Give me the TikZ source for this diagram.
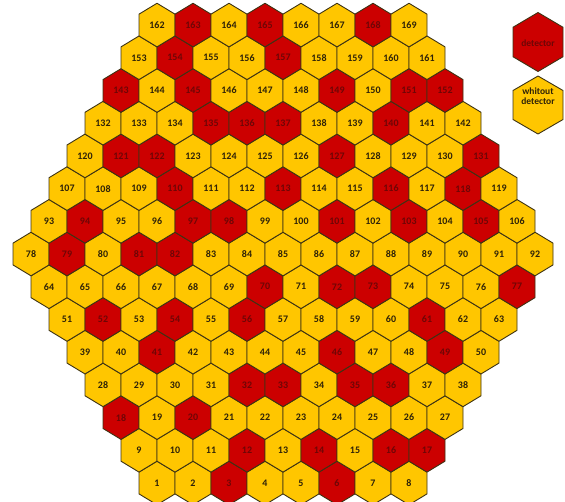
\documentclass[tikz,border=0pt]{standalone}
\usepackage{fontspec}
\setmainfont{Carlito}
\definecolor{hexyellow}{HTML}{FFC600}
\definecolor{hexred}{HTML}{CC0000}
\definecolor{hexline}{HTML}{3D3314}
\definecolor{redtext}{HTML}{6E0606}
\definecolor{darktext}{HTML}{2E2208}
\newcount\hexid
\tikzset{
  yellowhex/.style={fill=hexyellow,draw=hexline,line width=0.9pt,line join=round},
  redhex/.style={fill=hexred,draw=hexline,line width=0.9pt,line join=round},
  yellowlabel/.style={font=\fontsize{10}{11}\selectfont\bfseries,text=darktext,inner sep=0pt},
  redlabel/.style={font=\fontsize{10}{11}\selectfont\bfseries,text=redtext,inner sep=0pt},
  legendtext/.style={font=\fontsize{9.5}{10}\selectfont\bfseries,align=center,inner sep=0pt}
}
\begin{document}
\begin{tikzpicture}[x=1pt,y=-1pt]
\useasboundingbox (0,0) rectangle (565,501);
\foreach \i in {3,6,12,14,16,17,18,20,32,33,35,36,41,46,49,52,54,56,61,70,72,73,77,79,81,82,94,97,98,101,103,105,110,113,116,118,121,122,127,131,135,136,137,140,143,145,149,151,152,154,157,163,165,168}
  {\expandafter\xdef\csname isred\i\endcsname{1}}
\global\hexid=0
\foreach \r in {1,...,15} {
  \pgfmathtruncatemacro\n{\r<=8 ? 7+\r : 23-\r}
  \pgfmathsetmacro\yy{483-(\r-1)*32.71}
  \pgfmathsetmacro\xs{157-18*(\n-8)}
  \foreach \c in {1,...,\n} {
    \global\advance\hexid by 1
    \edef\k{\the\hexid}
    \pgfmathsetmacro\xx{\xs+36*(\c-1)}
    \ifcsname isred\k\endcsname \def\st{redhex}\def\ts{redlabel}\else \def\st{yellowhex}\def\ts{yellowlabel}\fi
    \draw[\st] (\xx,\yy) +(0,-21.8) -- +(18,-10.9) -- +(18,10.9) -- +(0,21.8) -- +(-18,10.9) -- +(-18,-10.9) -- cycle;
    \node[\ts] (h\k) at (\xx,\yy) {\k};
  }
}
% legend
\draw[redhex] (538,42) +(0,-29.5) -- +(25,-14.75) -- +(25,14.75) -- +(0,29.5) -- +(-25,14.75) -- +(-25,-14.75) -- cycle;
\node[legendtext,text=redtext] (legred) at (538,43) {detector};
\draw[yellowhex] (538,105) +(0,-29) -- +(25,-14.5) -- +(25,14.5) -- +(0,29) -- +(-25,14.5) -- +(-25,-14.5) -- cycle;
\node[legendtext,text=darktext] (legyellow) at (538,96) {whitout\\detector};
\end{tikzpicture}
\end{document}
